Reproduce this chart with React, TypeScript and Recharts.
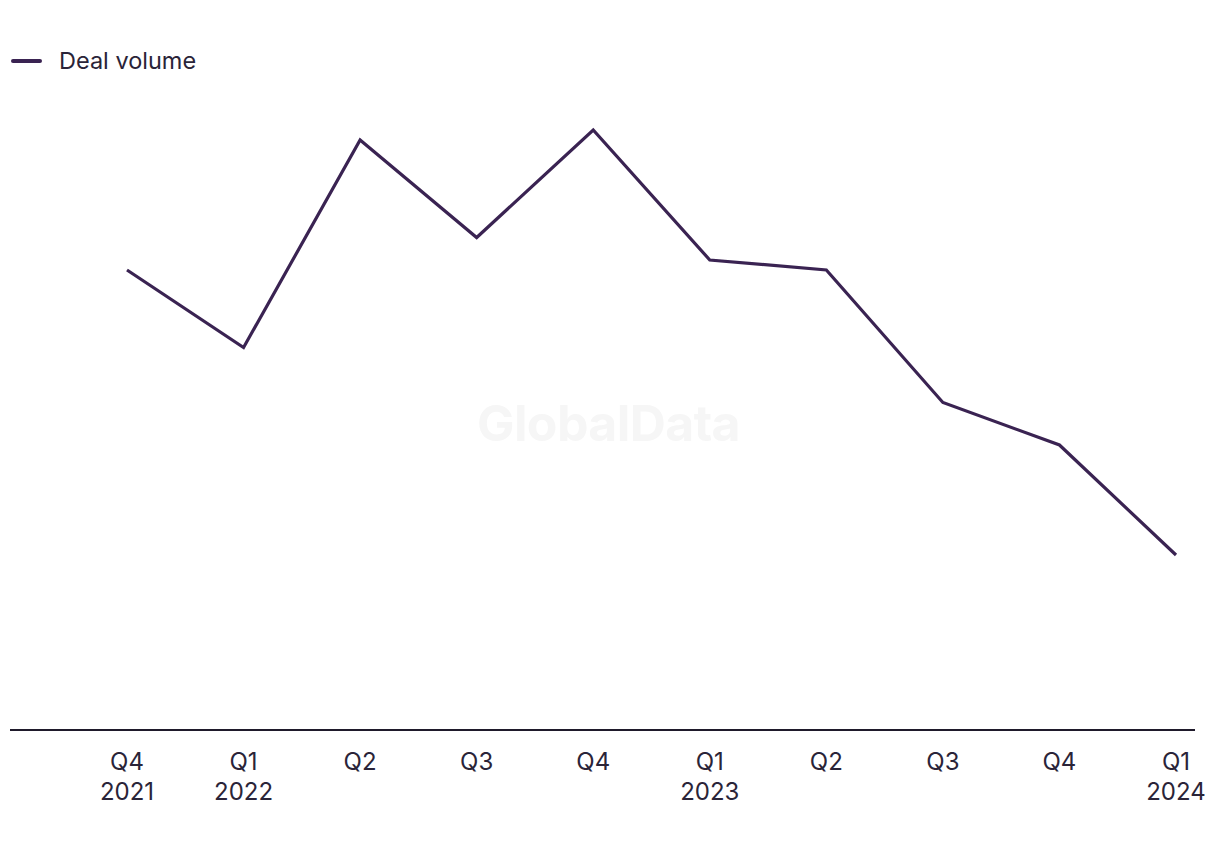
import { LineChart, Line, XAxis, YAxis } from "recharts";

const quarters = ["Q4", "Q1", "Q2", "Q3", "Q4", "Q1", "Q2", "Q3", "Q4", "Q1"];
const years = ["2021", "2022", "", "", "", "2023", "", "", "", "2024"];
const dealVolume = [184, 153, 236, 197, 240, 188, 184, 131, 114, 70];

const data = quarters.map((q, i) => ({
  key: `${q}-${i}`,
  quarter: q,
  year: years[i],
  deals: dealVolume[i],
}));

const LINE_COLOR = "#3a2352";
const TEXT_COLOR = "#2a2438";
const FONT = "Inter, 'Liberation Sans', Arial, sans-serif";

function QuarterTick(props: any) {
  const { x, y, payload } = props;
  const row = data[payload.index];
  return (
    <text x={x} y={y} textAnchor="middle" fill={TEXT_COLOR} fontSize={24} fontFamily={FONT}>
      <tspan x={x} dy={32}>{row.quarter}</tspan>
      {row.year && <tspan x={x} dy={30}>{row.year}</tspan>}
    </text>
  );
}

export default function App() {
  return (
    <div style={{ position: "absolute", left: 0, top: 0, width: 1220, height: 850, background: "#fff" }}>
      <span
        style={{
          position: "absolute",
          left: 477,
          top: 393,
          fontFamily: FONT,
          fontWeight: 700,
          fontSize: 50,
          letterSpacing: -0.6,
          color: "#f6f6f6",
        }}
      >
        GlobalData
      </span>
      <LineChart
        width={1220}
        height={850}
        data={data}
        margin={{ top: 80, right: 25, bottom: 60, left: 10 }}
        style={{ position: "absolute", left: 0, top: 0 }}
      >
        <XAxis
          dataKey="key"
          height={60}
          padding={{ left: 117, right: 19 }}
          axisLine={{ stroke: "#1f1a2b", strokeWidth: 2 }}
          tickLine={false}
          interval={0}
          tick={<QuarterTick />}
        />
        <YAxis hide domain={[0, 260]} />
        <Line
          type="linear"
          dataKey="deals"
          stroke={LINE_COLOR}
          strokeWidth={3.2}
          dot={false}
          activeDot={false}
          isAnimationActive={false}
        />
      </LineChart>
      <div
        style={{
          position: "absolute",
          left: 11,
          top: 46,
          display: "flex",
          alignItems: "center",
          fontFamily: FONT,
          fontSize: 23.5,
          color: TEXT_COLOR,
        }}
      >
        <span style={{ display: "inline-block", width: 31, height: 4, borderRadius: 2, background: LINE_COLOR, marginRight: 17 }} />
        <span>Deal volume</span>
      </div>
    </div>
  );
}
